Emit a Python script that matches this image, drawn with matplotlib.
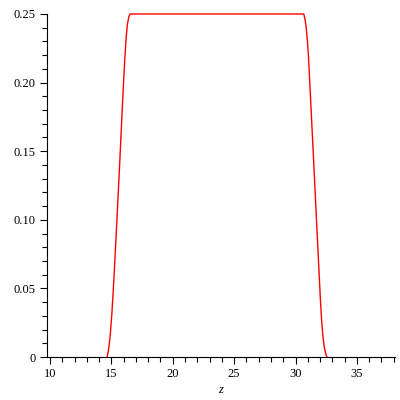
import matplotlib.pyplot as plt
from matplotlib.ticker import MultipleLocator, FixedLocator

# curve: rising edge, flat top, falling edge
z_pts = [14.66, 14.80, 14.92, 15.03, 15.14, 15.25, 15.36, 15.47, 15.58, 15.69,
         15.80, 15.90, 16.00, 16.10, 16.20, 16.30, 16.42, 16.54,
         30.67, 30.78, 30.88, 30.97, 31.06, 31.16, 31.27, 31.38, 31.49, 31.60,
         31.71, 31.82, 31.93, 32.03, 32.13, 32.23, 32.33, 32.44, 32.55]
f_pts = [0.0, 0.007, 0.017, 0.030, 0.046, 0.064, 0.083, 0.103, 0.123, 0.143,
         0.164, 0.183, 0.201, 0.218, 0.232, 0.242, 0.248, 0.25,
         0.25, 0.246, 0.239, 0.230, 0.218, 0.200, 0.180, 0.160, 0.140, 0.120,
         0.099, 0.079, 0.059, 0.041, 0.026, 0.015, 0.008, 0.003, 0.0]

x_ticks = [10, 15, 20, 25, 30, 35]
y_ticks = [0, 0.05, 0.10, 0.15, 0.20, 0.25]
y_tick_labels = ["0", "0.05", "0.10", "0.15", "0.20", "0.25"]

plt.rcParams["font.family"] = ["Liberation Serif", "DejaVu Serif"]

fig = plt.figure(figsize=(4, 4), dpi=100)
ax = fig.add_axes([0.1175, 0.1075, 0.87, 0.8575])

ax.plot(z_pts, f_pts, color="red", linewidth=1.0, clip_on=False)

ax.set_xlim(9.76, 38.1)
ax.set_ylim(0, 0.25)

for s in ["top", "right"]:
    ax.spines[s].set_visible(False)
for s in ["left", "bottom"]:
    ax.spines[s].set_linewidth(0.8)

ax.xaxis.set_major_locator(FixedLocator(x_ticks))
ax.xaxis.set_minor_locator(MultipleLocator(1))
ax.yaxis.set_major_locator(FixedLocator(y_ticks))
ax.set_yticklabels(y_tick_labels)
ax.yaxis.set_minor_locator(MultipleLocator(0.01))

ax.tick_params(which="major", length=5, width=0.8, labelsize=9, pad=3)
ax.tick_params(which="minor", length=3.5, width=0.8)

ax.set_xlabel("z", fontstyle="italic", fontsize=9, labelpad=3)

fig.savefig("out.png", dpi=100)
